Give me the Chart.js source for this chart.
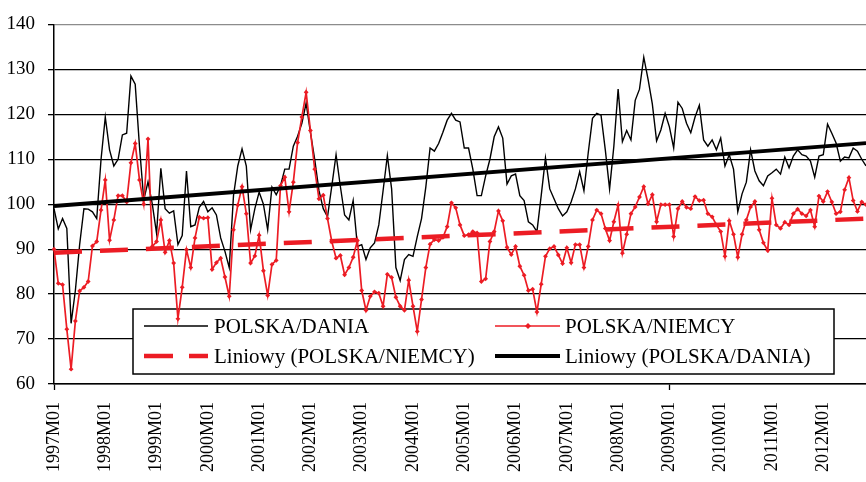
<!DOCTYPE html>
<html>
<head>
<meta charset="utf-8">
<script src="https://cdn.jsdelivr.net/npm/chart.js@4"></script>
<style>
  html, body { margin: 0; padding: 0; background: #fff; overflow: hidden; }
  #wrap { position: relative; width: 870px; height: 482px; }
</style>
</head>
<body>
<div id="wrap"><canvas id="chart"></canvas></div>
<script>
// Dane miesieczne 1997M01 - 2012M11
const years = ['1997','1998','1999','2000','2001','2002','2003','2004','2005','2006','2007','2008','2009','2010','2011','2012'];
const months = ['01','02','03','04','05','06','07','08','09','10','11','12'];
const labels = [];
years.forEach(y => months.forEach(m => labels.push(y + 'M' + m)));
labels.length = 191;

const polskaDania = [
  99, 94.5, 96.8, 94.6, 73.5, 80.8, 91, 99, 98.9, 98.3, 96.8, 109.9,
  119.4, 112.1, 108.5, 110, 115.4, 115.8, 128.5, 126.7, 112.9, 101, 105, 100,
  93.5, 108, 99, 98, 98.5, 91, 93, 107.4, 95, 95.4, 99.3, 100.6,
  98.3, 99.2, 97.6, 92.5, 89.5, 85.9, 101.9, 108.5, 112.3, 108.5, 94.3, 99,
  102.7, 100, 94.3, 103.8, 102.1, 104.1, 107.8, 107.8, 112.9, 115.1, 118, 122.5,
  116, 110, 103, 99, 97.2, 104, 111, 104, 97.6, 96.5, 100.8, 90.6,
  91, 87.7, 90.3, 91.4, 95.4, 103, 110.8, 103.4, 85.9, 83, 87.7, 88.8,
  88.4, 92.8, 96.8, 103.8, 112.5, 111.8, 113.5, 116, 118.7, 120.2, 118.7, 118.3,
  112.5, 112.5, 107.8, 101.9, 101.9, 106.3, 110, 115, 117.2, 114.7, 104.5, 106.3,
  106.7, 101.9, 100.8, 96.1, 95.4, 93.9, 101.9, 110.3, 103.4, 101.2, 99, 97.4,
  98.3, 100.5, 103.4, 107.2, 103, 111.4, 119.1, 120.2, 119.8, 112.1, 103.4, 112.9,
  125.6, 113.9, 116.4, 114.3, 123.1, 125.6, 132.7, 127.8, 122.3, 114.1, 116.5, 120.2,
  117.2, 112.5, 122.7, 121.3, 118, 115.9, 119.4, 122, 114.3, 112.9, 114.3, 112.1,
  114.7, 108.5, 111, 107.8, 98.3, 102.3, 104.9, 112.1, 107.4, 105.2, 104.1, 106.3,
  107, 107.8, 106.7, 110.5, 108.1, 110.7, 112.1, 111, 110.7, 109.6, 106, 110.7,
  111, 117.8, 115.8, 113.6, 109.6, 110.5, 110.3, 112.5, 111.8, 110, 108.5
];

const polskaNiemcy = [
  90, 82.4, 82.1, 72.2, 63.3, 74, 80.7, 81.5, 82.8, 90.7, 91.7, 98.7,
  105.4, 92, 96.5, 101.9, 101.9, 100.5, 109.2, 113.5, 105.4, 100, 114.5, 90.6,
  91.7, 96.5, 89.3, 91.9, 86.9, 74.5, 81.5, 89.9, 85.9, 92.5, 97.1, 96.9,
  97, 85.5, 87, 88, 83.8, 79.5, 94.3, 99.8, 103.9, 97.9, 86.9, 88.5,
  93.1, 85.2, 79.7, 86.6, 87.5, 104.1, 106, 98.3, 104.9, 113.7, 119.4, 124.9,
  116.4, 107.8, 101.2, 102, 96.8, 91.7, 88, 88.6, 84.3, 85.9, 88.2, 91.9,
  80.8, 76.4, 79.5, 80.5, 80.2, 77.3, 84.4, 83.7, 79.3, 77.3, 76.4, 83.1,
  77.3, 71.7, 78.8, 85.9, 91.1, 92.1, 91.9, 92.6, 95, 100.3, 99.2, 95.4,
  93, 93.2, 93.9, 93.6, 82.8, 83.4, 91.7, 93.9, 98.5, 96.3, 90.4, 88.8,
  90.6, 86.2, 84.2, 80.8, 81.1, 76, 82.2, 88.4, 90.1, 90.6, 88.7, 86.8,
  90.3, 87, 91, 91, 85.9, 90.6, 96.5, 98.7, 97.9, 94.6, 91.9, 96.1,
  99.8, 89.1, 93.3, 97.9, 99.4, 101.6, 103.9, 100.1, 102.1, 96.1, 99.9, 99.9,
  99.9, 92.8, 99, 100.6, 99.3, 99, 101.7, 100.8, 100.9, 97.9, 97.2, 95.4,
  93.9, 88.4, 96.3, 93.3, 88.2, 93.3, 96.5, 99.4, 100.6, 94.3, 91.4, 89.7,
  101.3, 95.4, 94.6, 96, 95.4, 97.9, 98.9, 97.9, 97.4, 98.7, 95, 101.8,
  100.6, 102.8, 100.5, 97.9, 98.3, 103.2, 105.9, 100.8, 98.4, 100.5, 99.9
];

// Linie trendu: wartosc na poczatku i na koncu okresu
const trendNiemcy = [89.2, 96.8];
const trendDania = [99.6, 113.6];

const yTicks = [60, 70, 80, 90, 100, 110, 120, 130, 140];

const RED = '#ec1c24';
const FONT = "'Liberation Serif', 'Times New Roman', serif";

const first = labels[0];
const last = labels[labels.length - 1];

// Legenda rysowana wewnatrz wykresu, pod seriami
const boxLegend = {
  id: 'boxLegend',
  beforeDatasetsDraw(chart) {
    const c = chart.ctx;
    c.save();
    c.fillStyle = '#fff';
    c.fillRect(133, 309, 701, 65);
    c.strokeStyle = '#000';
    c.lineWidth = 1.5;
    c.strokeRect(133, 309, 701, 65);

    c.font = '21px ' + FONT;
    c.fillStyle = '#000';
    c.textBaseline = 'middle';
    const r1 = 326, r2 = 356;

    // POLSKA/DANIA
    c.lineWidth = 1.3;
    c.strokeStyle = '#000';
    c.beginPath(); c.moveTo(144, r1); c.lineTo(208, r1); c.stroke();
    c.fillText('POLSKA/DANIA', 214, r1 + 1);

    // POLSKA/NIEMCY
    c.strokeStyle = RED;
    c.lineWidth = 1.6;
    c.beginPath(); c.moveTo(495, r1); c.lineTo(560, r1); c.stroke();
    c.fillStyle = RED;
    c.beginPath();
    c.moveTo(528, r1 - 3); c.lineTo(531, r1); c.lineTo(528, r1 + 3); c.lineTo(525, r1);
    c.closePath(); c.fill();
    c.fillStyle = '#000';
    c.fillText('POLSKA/NIEMCY', 565, r1 + 1);

    // Liniowy (POLSKA/NIEMCY)
    c.strokeStyle = RED;
    c.lineWidth = 4.5;
    c.setLineDash([29, 16]);
    c.beginPath(); c.moveTo(144, r2); c.lineTo(208, r2); c.stroke();
    c.setLineDash([]);
    c.fillText('Liniowy (POLSKA/NIEMCY)', 214, r2 + 1);

    // Liniowy (POLSKA/DANIA)
    c.strokeStyle = '#000';
    c.lineWidth = 3.8;
    c.beginPath(); c.moveTo(495, r2); c.lineTo(560, r2); c.stroke();
    c.fillText('Liniowy (POLSKA/DANIA)', 565, r2 + 1);
    c.restore();
  }
};

const ctx = document.getElementById('chart').getContext('2d');
const chart = new Chart(ctx, {
  type: 'line',
  data: {
    labels: labels,
    datasets: [
      {
        label: 'Liniowy (POLSKA/DANIA)',
        data: [{ x: first, y: trendDania[0] }, { x: last, y: trendDania[1] }],
        borderColor: '#000',
        borderWidth: 3.8,
        pointRadius: 0,
        order: 0
      },
      {
        label: 'Liniowy (POLSKA/NIEMCY)',
        data: [{ x: first, y: trendNiemcy[0] }, { x: last, y: trendNiemcy[1] }],
        borderColor: RED,
        borderWidth: 4.5,
        borderDash: [28, 18],
        pointRadius: 0,
        order: 1
      },
      {
        label: 'POLSKA/NIEMCY',
        data: polskaNiemcy,
        borderColor: RED,
        borderWidth: 1.7,
        pointStyle: 'rectRot',
        pointRadius: 2.4,
        pointBorderWidth: 0,
        pointBackgroundColor: RED,
        tension: 0,
        order: 2
      },
      {
        label: 'POLSKA/DANIA',
        data: polskaDania,
        borderColor: '#000',
        borderWidth: 1.4,
        pointRadius: 0,
        tension: 0,
        order: 3
      }
    ]
  },
  options: {
    responsive: true,
    maintainAspectRatio: false,
    animation: false,
    layout: { padding: { top: 18, left: 0, right: 0, bottom: 0 } },
    plugins: {
      legend: { display: false },
      tooltip: { enabled: false }
    },
    scales: {
      x: {
        type: 'category',
        offset: false,
        afterFit: (scale) => { scale.height = 98; },
        border: { display: true, color: '#000', width: 1.5 },
        grid: {
          drawOnChartArea: false,
          drawTicks: true,
          tickLength: 6,
          tickColor: (c) => (c.index % 12 === 0 ? '#000' : 'rgba(0,0,0,0)'),
          tickWidth: 1.3
        },
        ticks: {
          autoSkip: false,
          minRotation: 90,
          maxRotation: 90,
          padding: 12,
          color: '#000',
          font: { family: FONT, size: 18 },
          callback: (v, i) => (i % 12 === 0 ? labels[i] : null)
        }
      },
      y: {
        min: 60,
        max: 140,
        afterFit: (scale) => { scale.width = 54; },
        afterBuildTicks: (scale) => { scale.ticks = yTicks.map(v => ({ value: v })); },
        border: { display: true, color: '#000', width: 1.5 },
        grid: {
          color: (c) => (c.tick && c.tick.value === 140 ? '#8c8c8c' : '#000'),
          lineWidth: 1.3,
          drawTicks: true,
          tickLength: 6,
          tickColor: '#000'
        },
        ticks: {
          padding: 13,
          color: '#000',
          font: { family: FONT, size: 19 }
        }
      }
    }
  },
  plugins: [boxLegend]
});
</script>
</body>
</html>
